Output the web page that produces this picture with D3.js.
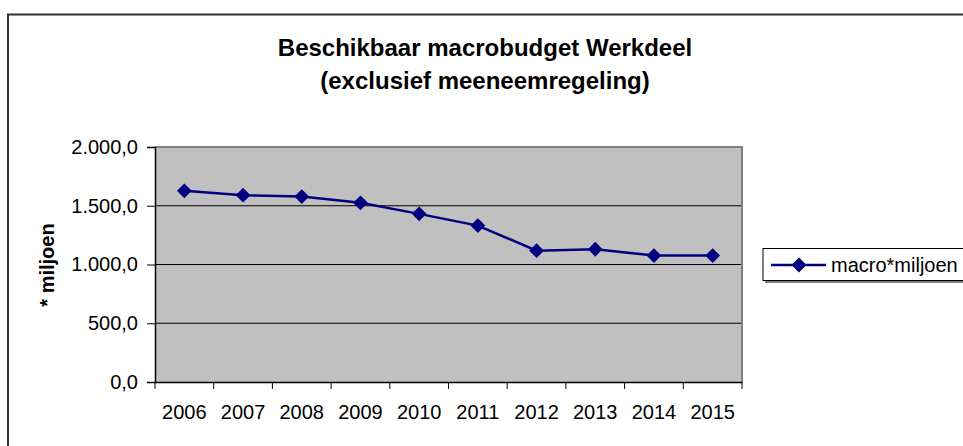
<!DOCTYPE html>
<html>
  <head>
    <meta charset="utf-8">
    <title></title>
    <script src="https://cdn.jsdelivr.net/npm/d3@7"></script>
    <style>
      body{margin:0;background:#fff;}
      text{font-family:'Liberation Sans', Arial, sans-serif;}
    </style>
  </head>
  <body>
    <script>
      // data
      let years=['2006','2007','2008','2009','2010','2011','2012','2013','2014','2015'];
      let values=[1627, 1590, 1578, 1525, 1431, 1331, 1118, 1130, 1076, 1076];
      let yTicks=[0, 500, 1000, 1500, 2000];
      let seriesName='macro*miljoen';

      let svg=d3.select('body').append('svg').attr('width', 963).attr('height', 446);

      // outer chart border
      svg.append('rect')
        .attr('x', 8).attr('y', 14.5).attr('width', 1000).attr('height', 500)
        .attr('fill', 'none').attr('stroke', '#333').attr('stroke-width', 2);

      let pL=155, pR=742, pT=147, pB=382;

      let x=d3.scaleBand().domain(years).range([pL, pR]);
      let y=d3.scaleLinear().domain([0, 2000]).range([pB, pT]);

      // plot area
      svg.append('rect')
        .attr('x', pL).attr('y', pT).attr('width', pR-pL).attr('height', pB-pT)
        .attr('fill', '#c0c0c0');

      // gridlines
      svg.append('g').selectAll('line').data(yTicks.slice(1, -1)).enter().append('line')
        .attr('x1', pL).attr('x2', pR)
        .attr('y1', d=>y(d)).attr('y2', d=>y(d))
        .attr('stroke', '#000').attr('stroke-width', 1);

      // plot border (top and right grey)
      svg.append('path')
        .attr('d', `M${pL},${pT}H${pR}V${pB}`)
        .attr('fill', 'none').attr('stroke', '#808080').attr('stroke-width', 2);

      // y axis
      let yAxis=d3.axisLeft(y).tickValues(yTicks).tickSize(8).tickPadding(9)
        .tickFormat(d=>d3.format(',.1f')(d).replace(/,/g, '#').replace('.', ',').replace(/#/g, '.'));
      let gy=svg.append('g').attr('transform', `translate(${pL},0)`).call(yAxis);
      gy.select('.domain').attr('stroke', '#000').attr('stroke-width', 1.5);
      gy.selectAll('text').attr('font-size', 20).attr('fill', '#000');

      // x axis
      let xAxis=d3.axisBottom(x).tickSize(0).tickPadding(23);
      let gx=svg.append('g').attr('transform', `translate(0,${pB})`).call(xAxis);
      gx.select('.domain').attr('stroke', '#000').attr('stroke-width', 1.5);
      gx.selectAll('text').attr('font-size', 20).attr('fill', '#000');
      gx.selectAll('line.bound').data(years.concat(['end'])).enter().append('line')
        .attr('class', 'bound')
        .attr('x1', (d, i)=>pL+i*x.step()).attr('x2', (d, i)=>pL+i*x.step())
        .attr('y1', 0).attr('y2', 7)
        .attr('stroke', '#000').attr('stroke-width', 1);

      // line
      let cx=d=>x(d)+x.bandwidth()/2;
      let line=d3.line().x((d, i)=>cx(years[i])).y(d=>y(d));
      svg.append('path').datum(values)
        .attr('d', line)
        .attr('fill', 'none').attr('stroke', '#000080').attr('stroke-width', 2.5);

      let diamond=d3.symbol().type(d3.symbolDiamond2).size(140);
      svg.append('g').selectAll('path').data(values).enter().append('path')
        .attr('d', diamond)
        .attr('transform', (d, i)=>`translate(${cx(years[i])},${y(d)})`)
        .attr('fill', '#000080');

      // title
      let title=svg.append('text')
        .attr('text-anchor', 'middle').attr('font-size', 24).attr('font-weight', 'bold');
      title.append('tspan').attr('x', 485).attr('y', 56).text('Beschikbaar macrobudget Werkdeel');
      title.append('tspan').attr('x', 485).attr('y', 89).text('(exclusief meeneemregeling)');

      // y axis title
      svg.append('text')
        .attr('transform', 'translate(54,265) rotate(-90)')
        .attr('text-anchor', 'middle').attr('font-size', 20).attr('font-weight', 'bold')
        .text('* miljoen');

      // legend
      let lg=svg.append('g');
      lg.append('rect').attr('x', 765).attr('y', 251).attr('width', 300).attr('height', 32).attr('fill', '#808080');
      lg.append('rect').attr('x', 763).attr('y', 248.5).attr('width', 300).attr('height', 32)
        .attr('fill', '#fff').attr('stroke', '#000').attr('stroke-width', 1);
      lg.append('line').attr('x1', 771).attr('x2', 826).attr('y1', 265).attr('y2', 265)
        .attr('stroke', '#000080').attr('stroke-width', 2.5);
      lg.append('path').attr('d', diamond).attr('transform', 'translate(799,265)').attr('fill', '#000080');
      lg.append('text').attr('x', 831).attr('y', 272).attr('font-size', 20).text(seriesName);
    </script>
  </body>
</html>
